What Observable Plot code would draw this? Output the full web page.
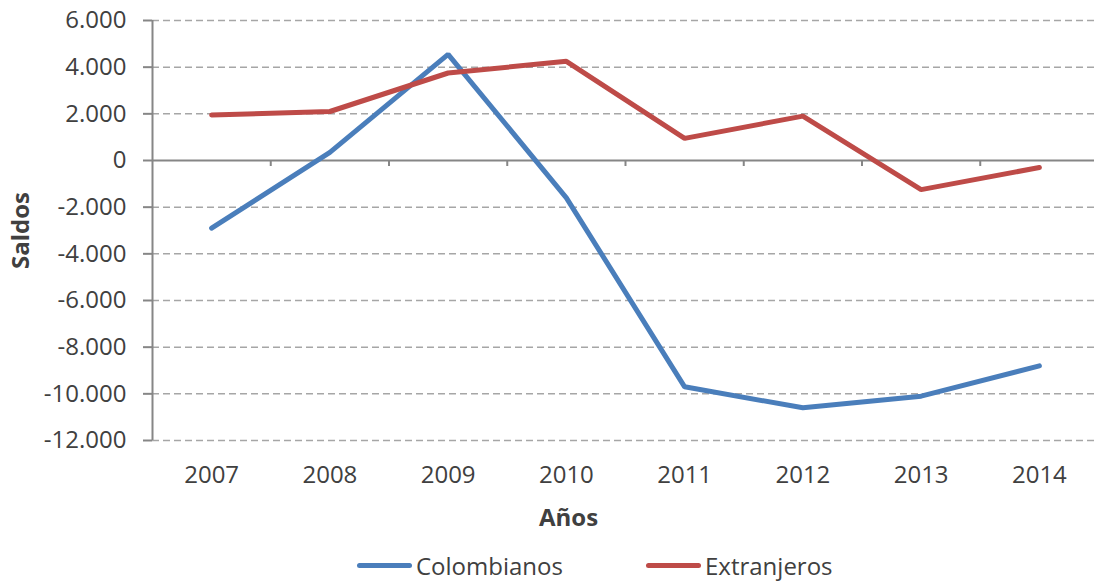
<!DOCTYPE html>
<html>
<head>
<meta charset="utf-8">
<script src="https://cdn.jsdelivr.net/npm/d3@7"></script>
<script src="https://cdn.jsdelivr.net/npm/@observablehq/plot@0.6"></script>
<style>
  body { margin: 0; background: #fff; font-family: "Open Sans", sans-serif; }
  #chart svg { display: block; }
  .legend { position: relative; height: 33px; color: #404040; font-size: 24px; }
  .legend .item { position: absolute; top: 1px; height: 33px; display: flex; align-items: center; }
  .legend .sw { width: 55px; height: 5px; border-radius: 3px; margin-right: 4px; }
</style>
</head>
<body>
<div id="chart"></div>
<div class="legend" id="legend"></div>
<script>
// Saldos migratorios por año
const years = [2007, 2008, 2009, 2010, 2011, 2012, 2013, 2014];
const colombianos = [-2900, 350, 4550, -1600, -9700, -10600, -10100, -8800];
const extranjeros = [1950, 2100, 3750, 4250, 950, 1900, -1250, -300];
const yTicks = [-12000, -10000, -8000, -6000, -4000, -2000, 0, 2000, 4000, 6000];
const series = ["Colombianos", "Extranjeros"];
const colors = ["#4a7ebb", "#be4b48"];

const rows = years.flatMap((year, i) => [
  {year, serie: series[0], value: colombianos[i]},
  {year, serie: series[1], value: extranjeros[i]}
]);

// category boundaries for the tick marks on the zero line
const bounds = years.slice(1).map(y => y - 0.5);

const fmt = d3.formatLocale({decimal: ",", thousands: ".", grouping: [3], currency: ["$", ""], minus: "-"}).format(",");

const axisColor = "#868686";

const chart = Plot.plot({
  width: 1094,
  height: 548,
  marginLeft: 152,
  marginRight: 0,
  marginTop: 20,
  marginBottom: 108,
  style: {fontFamily: "Open Sans", fontSize: "24px", color: "#404040", background: "#fff"},
  x: {domain: [2006.5, 2014.5], range: [152, 1098]},
  y: {domain: [-12000, 6000]},
  color: {domain: series, range: colors},
  marks: [
    Plot.gridY(yTicks.filter(d => d !== 0), {stroke: "#a6a6a6", strokeOpacity: 1, strokeWidth: 1.5, strokeDasharray: "7,4"}),
    Plot.ruleY([0], {stroke: axisColor, strokeWidth: 2}),
    Plot.ruleX(bounds, {y1: 0, y2: 0, insetBottom: -6, stroke: axisColor, strokeWidth: 2}),
    Plot.ruleX([2006.5], {stroke: axisColor, strokeWidth: 2}),
    Plot.axisY({ticks: yTicks, tickSize: 9, tickPadding: 17, tickFormat: fmt, label: null, stroke: axisColor, strokeWidth: 2}),
    Plot.axisX({ticks: years, tickSize: 0, tickPadding: 25, tickFormat: d => String(d), label: null}),
    Plot.lineY(rows, {x: "year", y: "value", z: "serie", stroke: "serie", strokeWidth: 5, strokeLinecap: "round", strokeLinejoin: "miter"}),
    Plot.text(["Saldos"], {frameAnchor: "left", textAnchor: "middle", rotate: -90, dx: -131, fontWeight: "bold", fill: "#404040"}),
    Plot.text(["Años"], {frameAnchor: "bottom", dy: 85, dx: -55, fontWeight: "bold", fill: "#404040"})
  ]
});
document.getElementById("chart").appendChild(chart);

// line-swatch legend
const legend = document.getElementById("legend");
const lefts = [357, 646];
series.forEach((s, i) => {
  const item = document.createElement("div");
  item.className = "item";
  item.style.left = lefts[i] + "px";
  const sw = document.createElement("span");
  sw.className = "sw";
  sw.style.background = colors[i];
  const label = document.createElement("span");
  label.textContent = s;
  item.appendChild(sw);
  item.appendChild(label);
  legend.appendChild(item);
});
</script>
</body>
</html>
